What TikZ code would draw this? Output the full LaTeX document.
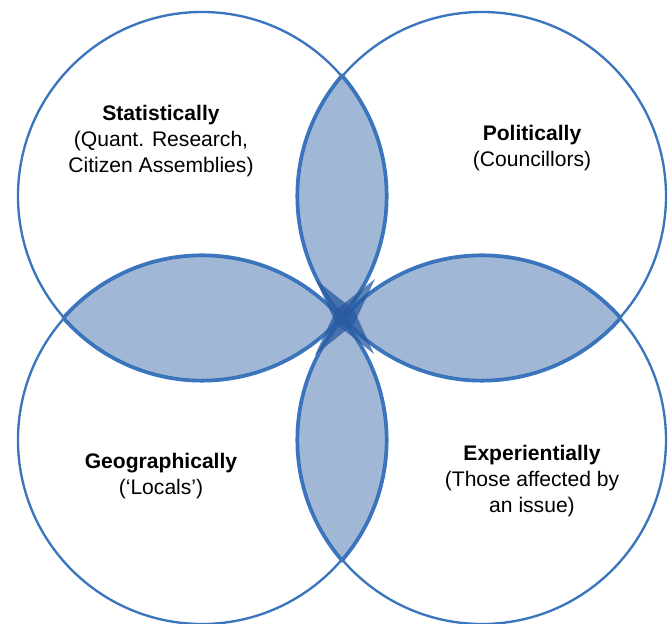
\documentclass[tikz,border=0pt]{standalone}
\usepackage{fontspec}
\setmainfont{Liberation Sans}
\usetikzlibrary{calc, positioning}
\definecolor{vennblue}{RGB}{58,117,189}
\definecolor{petalblue}{RGB}{45,95,165}
\definecolor{crossblue}{RGB}{40,90,160}
\tikzset{
x=0.03cm, y=0.03cm, % one unit is one pixel of the sketch
venn circle/.style={circle, draw=vennblue, line width=2pt, minimum size=11.04cm, inner sep=0pt}, % the four big circles
petal/.style={fill=petalblue, fill opacity=0.45}, % shaded overlaps
petal line/.style={draw=vennblue, line width=2.6pt},
cross/.style={fill=crossblue, fill opacity=0.75}, % dark spikes in the middle
venn text/.style={align=center, font=\fontsize{18}{22}\selectfont, inner sep=1pt},
}

\begin{document}
\begin{tikzpicture}
  \useasboundingbox (0,0) rectangle (670,624);

  \node[venn circle] (stat) at (202,428) {};
  \node[venn circle] (poli) at (482,428) {};
  \node[venn circle] (geo)  at (202,184) {};
  \node[venn circle] (expe) at (482,184) {};

  % overlaps of neighbouring circles
  \foreach \a/\b in {stat/poli, poli/expe, expe/geo, geo/stat}{
    \begin{scope}
      \clip (\a.center) circle[radius=5.565cm];
      \fill[petal] (\b.center) circle[radius=5.565cm];
      \draw[petal line] (\b.center) circle[radius=5.55cm];
    \end{scope}
    \begin{scope}
      \clip (\b.center) circle[radius=5.565cm];
      \draw[petal line] (\a.center) circle[radius=5.55cm];
    \end{scope}
  }

  % spikes where the four overlaps meet
  \coordinate (mid) at (345,307);
  \coordinate (nw) at ($(mid)+(-29,37)$);
  \coordinate (se) at ($(mid)+(29,-37)$);
  \coordinate (ne) at ($(mid)+(30,38)$);
  \coordinate (sw) at ($(mid)+(-30,-38)$);
  \fill[cross] (nw) -- ($(mid)+(9,7)$) -- (se) -- ($(mid)+(-9,-7)$) -- cycle;
  \fill[cross] (ne) -- ($(mid)+(9,-7)$) -- (sw) -- ($(mid)+(-9,7)$) -- cycle;

  \node[venn text] (stat text) at (161,483) {\textbf{Statistically}\\(Quant. Research,\\Citizen Assemblies)};
  \node[venn text] (poli text) at (532,476) {\textbf{Politically}\\(Councillors)};
  \node[venn text] (geo text)  at (161,148) {\textbf{Geographically}\\(‘Locals’)};
  \node[venn text] (expe text) at (532,143) {\textbf{Experientially}\\(Those affected by\\an issue)};
\end{tikzpicture}
\end{document}
